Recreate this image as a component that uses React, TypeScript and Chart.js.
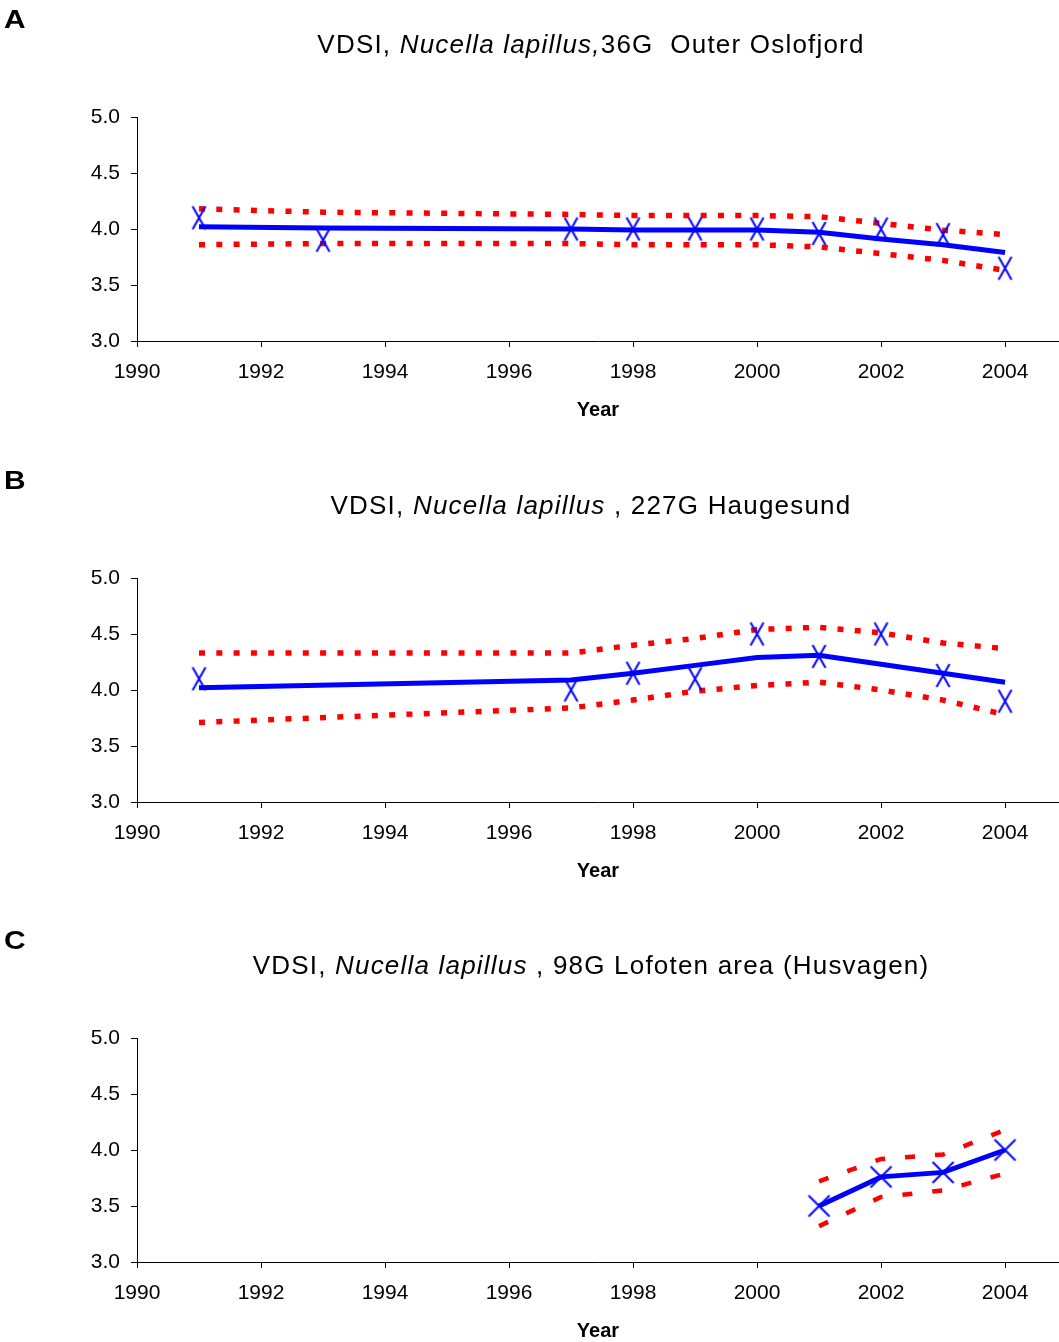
import React, { useEffect, useRef } from "react";
import { Chart, registerables } from "chart.js";

Chart.register(...registerables);

// ---- Data ----
const xTickValues = [1990, 1992, 1994, 1996, 1998, 2000, 2002, 2004];
const yTickValues = [3.0, 3.5, 4.0, 4.5, 5.0];

const yearsA = [1991, 1993, 1997, 1998, 1999, 2000, 2001, 2002, 2003, 2004];
const observedA = [4.10, 3.90, 4.00, 4.00, 4.00, 4.00, 3.96, 4.00, 3.95, 3.65];
const trendA = [4.02, 4.01, 4.00, 3.99, 3.99, 3.99, 3.97, 3.91, 3.86, 3.79];
const upperA = [4.18, 4.15, 4.13, 4.12, 4.12, 4.12, 4.11, 4.05, 3.99, 3.95];
const lowerA = [3.86, 3.87, 3.87, 3.86, 3.86, 3.86, 3.84, 3.78, 3.72, 3.63];

const yearsB = [1991, 1997, 1998, 1999, 2000, 2001, 2002, 2003, 2004];
const observedB = [4.10, 4.00, 4.15, 4.10, 4.50, 4.30, 4.50, 4.13, 3.90];
const trendB = [4.02, 4.09, 4.15, 4.22, 4.29, 4.31, 4.23, 4.15, 4.07];
const upperB = [4.33, 4.33, 4.40, 4.46, 4.54, 4.56, 4.51, 4.42, 4.37];
const lowerB = [3.71, 3.84, 3.91, 3.99, 4.04, 4.07, 4.00, 3.91, 3.78];

const yearsC = [2001, 2002, 2003, 2004];
const observedC = [3.50, 3.76, 3.80, 4.00];
const trendC = [3.50, 3.76, 3.80, 4.00];
const upperC = [3.72, 3.92, 3.96, 4.18];
const lowerC = [3.32, 3.58, 3.64, 3.79];

const X_MIN = 1990;
const X_MAX = 2004.87;
const Y_MIN = 3;
const Y_MAX = 5;

const BLUE = "#0000FF";
const RED = "#FF0000";
const FONT = "'Liberation Sans', Arial, Helvetica, sans-serif";

const CANVAS_W = 1059;
const CANVAS_H = 421;

function makeCross(w: number, h: number, lw: number, color: string) {
  const c = document.createElement("canvas");
  c.width = Math.ceil(w + lw * 2);
  c.height = Math.ceil(h + lw * 2);
  const ctx = c.getContext("2d")!;
  ctx.strokeStyle = color;
  ctx.lineWidth = lw;
  ctx.lineCap = "butt";
  const x0 = (c.width - w) / 2;
  const y0 = (c.height - h) / 2;
  ctx.beginPath();
  ctx.moveTo(x0, y0);
  ctx.lineTo(x0 + w, y0 + h);
  ctx.moveTo(x0 + w, y0);
  ctx.lineTo(x0, y0 + h);
  ctx.stroke();
  return c;
}

type PanelProps = {
  top: number;
  letter: string;
  title: React.ReactNode;
  years: number[];
  observed: number[];
  trend: number[];
  upper: number[];
  lower: number[];
  dash: number[];
  dashWidth: number;
  markerW: number;
  markerH: number;
};

function Panel(props: PanelProps) {
  const ref = useRef<HTMLCanvasElement>(null);
  useEffect(() => {
    const { years, observed, trend, upper, lower, dash, dashWidth, markerW, markerH } = props;
    const pts = (ys: number[]) => years.map((x, i) => ({ x, y: ys[i] }));
    const tickFont = { family: FONT, size: 21 };
    const gridOpts = {
      display: true,
      drawOnChartArea: false,
      drawTicks: true,
      tickLength: 6,
      color: "#000",
      lineWidth: 1,
    };
    const borderOpts = { display: true, color: "#000", width: 1 };
    const chart = new Chart(ref.current!, {
      type: "line",
      data: {
        datasets: [
          {
            label: "Observed",
            data: pts(observed),
            showLine: false,
            pointStyle: makeCross(markerW, markerH, 2, BLUE) as any,
            pointRadius: 9,
            borderColor: BLUE,
            backgroundColor: BLUE,
            clip: false,
          },
          {
            label: "Trend",
            data: pts(trend),
            borderColor: BLUE,
            borderWidth: 5,
            pointRadius: 0,
            tension: 0,
          },
          {
            label: "Upper",
            data: pts(upper),
            borderColor: RED,
            borderWidth: dashWidth,
            borderDash: dash,
            borderCapStyle: "butt",
            pointRadius: 0,
            tension: 0,
          },
          {
            label: "Lower",
            data: pts(lower),
            borderColor: RED,
            borderWidth: dashWidth,
            borderDash: dash,
            borderCapStyle: "butt",
            pointRadius: 0,
            tension: 0,
          },
        ],
      } as any,
      options: {
        animation: false,
        responsive: false,
        events: [],
        layout: { autoPadding: false, padding: { top: 117, left: 0, right: 0, bottom: 0 } },
        plugins: {
          legend: { display: false },
          tooltip: { enabled: false },
          title: { display: false },
        },
        scales: {
          x: {
            type: "linear",
            min: X_MIN,
            max: X_MAX,
            afterBuildTicks: (s: any) => {
              s.ticks = xTickValues.map((v) => ({ value: v }));
            },
            afterFit: (s: any) => {
              s.height = CANVAS_H - 341;
              s.paddingRight = 0;
              s.paddingLeft = 0;
            },
            ticks: {
              callback: (v: any) => String(v),
              font: tickFont,
              color: "#000",
              padding: 13,
              maxRotation: 0,
              autoSkip: false,
            },
            grid: gridOpts,
            border: borderOpts,
            title: {
              display: true,
              text: "Year",
              color: "#000",
              font: { family: FONT, size: 20, weight: "bold" },
              padding: { top: 0, bottom: -1 },
            },
          },
          y: {
            type: "linear",
            min: Y_MIN,
            max: Y_MAX,
            afterBuildTicks: (s: any) => {
              s.ticks = yTickValues.map((v) => ({ value: v }));
            },
            afterFit: (s: any) => {
              s.width = 137;
            },
            ticks: {
              callback: (v: any) => Number(v).toFixed(1),
              font: tickFont,
              color: "#000",
              padding: 11,
              autoSkip: false,
            },
            grid: gridOpts,
            border: borderOpts,
          },
        },
      } as any,
    });
    return () => chart.destroy();
  }, []);

  return (
    <div style={{ position: "absolute", left: 0, top: props.top, width: CANVAS_W, height: CANVAS_H }}>
      <canvas
        ref={ref}
        width={CANVAS_W}
        height={CANVAS_H}
        style={{ position: "absolute", left: 0, top: 0, width: CANVAS_W, height: CANVAS_H, display: "block" }}
      />
      <div
        style={{
          position: "absolute",
          left: 4,
          top: 6,
          fontFamily: FONT,
          fontWeight: "bold",
          fontSize: 26,
          lineHeight: "26px",
          color: "#000",
          transform: "scaleX(1.15)",
          transformOrigin: "left center",
        }}
      >
        {props.letter}
      </div>
      <div
        style={{
          position: "absolute",
          left: 591,
          top: 31,
          transform: "translateX(-50%)",
          whiteSpace: "pre",
          fontFamily: FONT,
          fontSize: 26,
          lineHeight: "26px",
          letterSpacing: "1.2px",
          color: "#000",
        }}
      >
        {props.title}
      </div>
    </div>
  );
}

export default function App() {
  return (
    <div
      style={{
        position: "absolute",
        left: 0,
        top: 0,
        width: 1059,
        height: 1342,
        overflow: "hidden",
        background: "#fff",
      }}
    >
      <Panel
        top={0}
        letter="A"
        title={
          <>
            {"VDSI, "}
            <i>{"Nucella lapillus,"}</i>
            {"36G  Outer Oslofjord"}
          </>
        }
        years={yearsA}
        observed={observedA}
        trend={trendA}
        upper={upperA}
        lower={lowerA}
        dash={[6, 11.3]}
        dashWidth={5.5}
        markerW={13}
        markerH={23}
      />
      <Panel
        top={461}
        letter="B"
        title={
          <>
            {"VDSI, "}
            <i>{"Nucella lapillus "}</i>
            {", 227G Haugesund"}
          </>
        }
        years={yearsB}
        observed={observedB}
        trend={trendB}
        upper={upperB}
        lower={lowerB}
        dash={[6, 11.3]}
        dashWidth={5.5}
        markerW={13}
        markerH={23}
      />
      <Panel
        top={921}
        letter="C"
        title={
          <>
            {"VDSI, "}
            <i>{"Nucella lapillus "}</i>
            {", 98G Lofoten area (Husvagen)"}
          </>
        }
        years={yearsC}
        observed={observedC}
        trend={trendC}
        upper={upperC}
        lower={lowerC}
        dash={[10, 20]}
        dashWidth={4.5}
        markerW={21}
        markerH={21}
      />
    </div>
  );
}
